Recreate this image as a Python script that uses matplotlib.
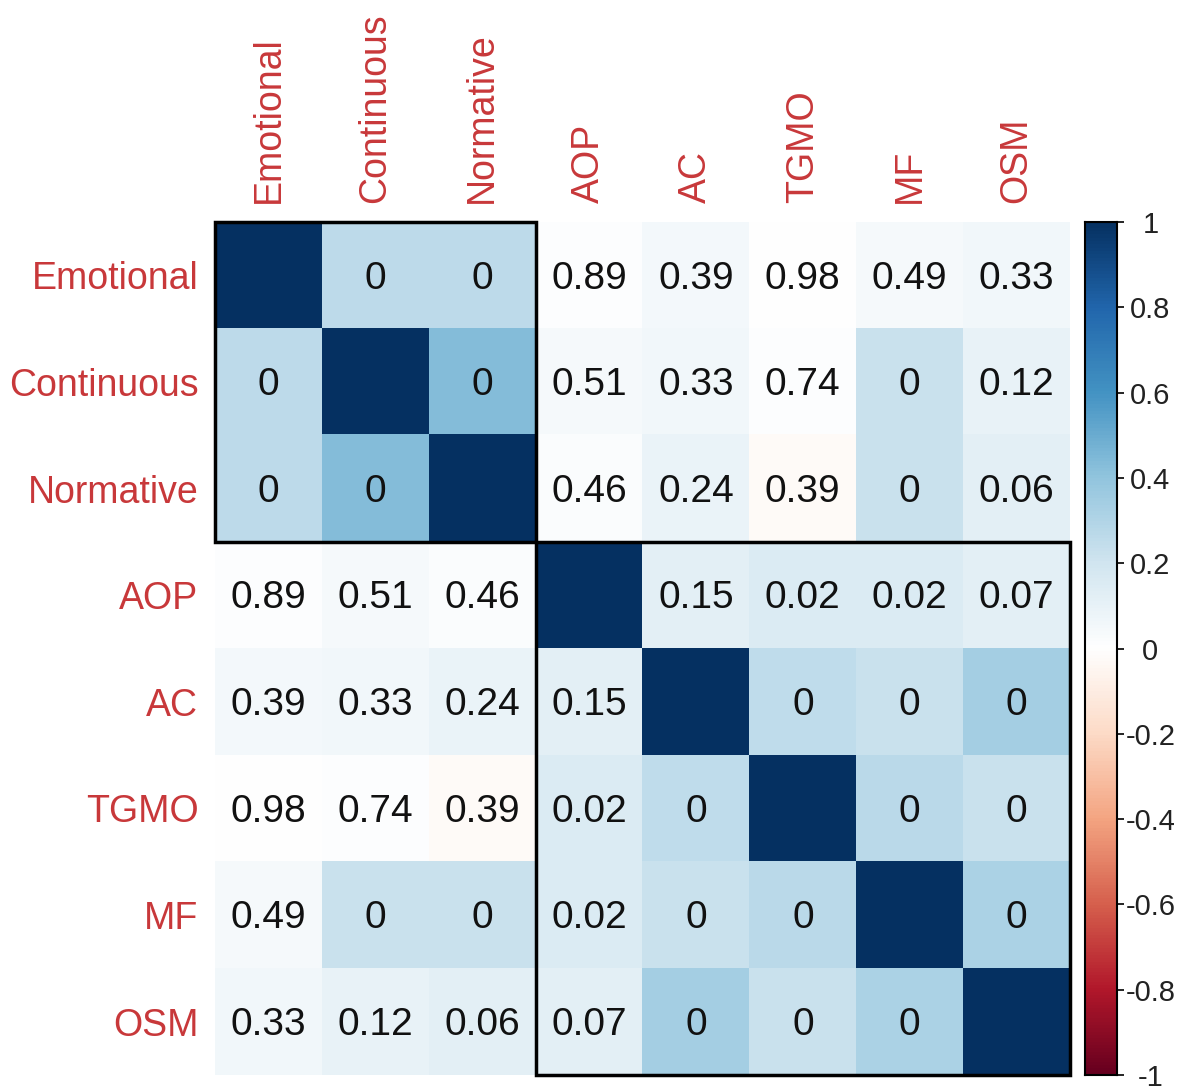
import numpy as np
import matplotlib
matplotlib.use("Agg")
import matplotlib.pyplot as plt
from matplotlib.patches import Rectangle
from matplotlib.colors import LinearSegmentedColormap

plt.rcParams['font.family'] = ['Liberation Sans', 'DejaVu Sans']

labels = ["Emotional", "Continuous", "Normative", "AOP", "AC", "TGMO", "MF", "OSM"]

# correlation estimates (colour of cells), upper triangle
corr_upper = {
    (0, 1): 0.26, (0, 2): 0.26, (0, 3): 0.01, (0, 4): 0.05, (0, 5): 0.00, (0, 6): 0.04, (0, 7): 0.06,
    (1, 2): 0.43, (1, 3): 0.04, (1, 4): 0.06, (1, 5): 0.01, (1, 6): 0.22, (1, 7): 0.10,
    (2, 3): 0.02, (2, 4): 0.09, (2, 5): -0.03, (2, 6): 0.22, (2, 7): 0.12,
    (3, 4): 0.12, (3, 5): 0.15, (3, 6): 0.15, (3, 7): 0.12,
    (4, 5): 0.25, (4, 6): 0.22, (4, 7): 0.34,
    (5, 6): 0.27, (5, 7): 0.22,
    (6, 7): 0.32,
}

# p-values displayed in cells (upper triangle)
pval_upper = {
    (0, 1): 0, (0, 2): 0, (0, 3): 0.89, (0, 4): 0.39, (0, 5): 0.98, (0, 6): 0.49, (0, 7): 0.33,
    (1, 2): 0, (1, 3): 0.51, (1, 4): 0.33, (1, 5): 0.74, (1, 6): 0, (1, 7): 0.12,
    (2, 3): 0.46, (2, 4): 0.24, (2, 5): 0.39, (2, 6): 0, (2, 7): 0.06,
    (3, 4): 0.15, (3, 5): 0.02, (3, 6): 0.02, (3, 7): 0.07,
    (4, 5): 0, (4, 6): 0, (4, 7): 0,
    (5, 6): 0, (5, 7): 0,
    (6, 7): 0,
}

cbar_ticks = [-1, -0.8, -0.6, -0.4, -0.2, 0, 0.2, 0.4, 0.6, 0.8, 1]

n = len(labels)
corr = np.eye(n)
for (i, j), v in corr_upper.items():
    corr[i, j] = v
    corr[j, i] = v

cmap = LinearSegmentedColormap.from_list(
    "corrRdBu",
    ["#67001F", "#B2182B", "#D6604D", "#F4A582", "#FDDBC7", "#FFFFFF",
     "#D1E5F0", "#92C5DE", "#4393C3", "#2166AC", "#053061"], N=256)

W, H = 1185, 1091
fig = plt.figure(figsize=(W / 100, H / 100), dpi=100)
ax = fig.add_axes([215 / W, (H - 1075) / H, 855 / W, 853 / H])
ax.imshow(corr, cmap=cmap, vmin=-1, vmax=1, aspect="auto", interpolation="nearest")

for (i, j), p in pval_upper.items():
    txt = "0" if p == 0 else f"{p:.2f}"
    for (r, c) in [(i, j), (j, i)]:
        ax.text(c, r + 0.03, txt, ha="center", va="center", fontsize=28, color="#111111")

lab_col = "#C8383A"
ax.set_xticks(range(n))
ax.set_yticks(range(n))
ax.set_xticklabels(labels, rotation=90, fontsize=27, color=lab_col)
ax.set_yticklabels(labels, fontsize=27, color=lab_col)
ax.xaxis.tick_top()
ax.tick_params(axis='x', length=0, pad=14)
ax.tick_params(axis='y', length=0, pad=12)
for s in ax.spines.values():
    s.set_visible(False)

ax.add_patch(Rectangle((-0.5, -0.5), 3, 3, fill=False, lw=2.5, ec="black", clip_on=False, zorder=5))
ax.add_patch(Rectangle((2.5, 2.5), 5, 5, fill=False, lw=2.5, ec="black", clip_on=False, zorder=5))
ax.set_xlim(-0.5, n - 0.5)
ax.set_ylim(n - 0.5, -0.5)

cax = fig.add_axes([1085 / W, (H - 1075) / H, 32 / W, 853 / H])
grad = np.linspace(-1, 1, 256).reshape(-1, 1)
cax.imshow(grad, cmap=cmap, vmin=-1, vmax=1, aspect="auto", origin="lower",
           extent=[0, 1, -1, 1])
cax.set_xticks([])
cax.yaxis.tick_right()
cax.set_yticks(cbar_ticks)
cax.set_yticklabels([f"{t:g}" for t in cbar_ticks], fontsize=21, color="#222222")
for t in cax.get_yticklabels():
    t.set_horizontalalignment("center")
cax.tick_params(axis='y', length=5, width=1.2, pad=19)
cax.set_ylim(-1, 1)
for s in cax.spines.values():
    s.set_linewidth(1.5)

fig.savefig("out.png", dpi=100)
